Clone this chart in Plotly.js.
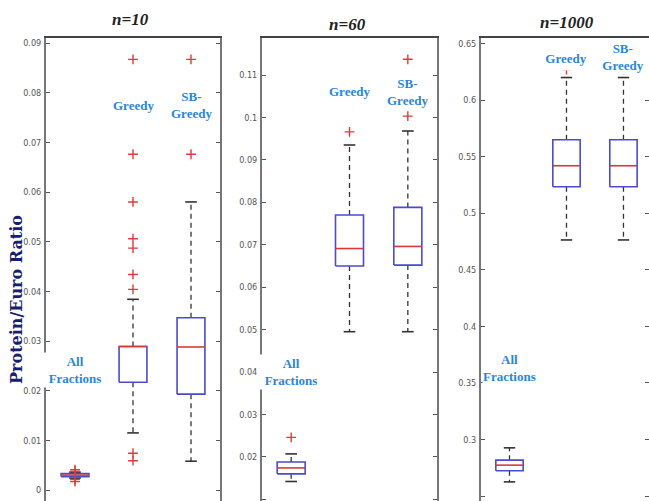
<!DOCTYPE html>
<html>
<head>
<meta charset="utf-8">
<script src="https://cdn.plot.ly/plotly-3.0.1.min.js"></script>
<style>html,body{margin:0;padding:0;background:#fff;}#chart{width:649px;height:501px;}</style>
</head>
<body>
<div id="chart"></div>
<script>
// ---------- DATA ----------
const groups = ['All Fractions', 'Greedy', 'SB-Greedy'];
const groupPos = [1, 2, 3];
const panelTitles = ['n=10', 'n=60', 'n=1000'];

// n = 10
const n10_lower  = [0.0024, 0.0115, 0.0058];
const n10_q1     = [0.0027, 0.0217, 0.0193];
const n10_median = [0.0030, 0.0289, 0.0288];
const n10_q3     = [0.0033, 0.0289, 0.0347];
const n10_upper  = [0.0036, 0.0384, 0.0580];
const n10_out_all    = [0.0041, 0.0038, 0.0021, 0.0017];
const n10_out_greedy = [0.0867, 0.0676, 0.0580, 0.0506, 0.0487, 0.0434, 0.0404, 0.0074, 0.0059];
const n10_out_sb     = [0.0867, 0.0676];

// n = 60
const n60_lower  = [0.0142, 0.0495, 0.0495];
const n60_q1     = [0.0160, 0.0650, 0.0652];
const n60_median = [0.0174, 0.0691, 0.0696];
const n60_q3     = [0.0188, 0.0770, 0.0788];
const n60_upper  = [0.0207, 0.0935, 0.0968];
const n60_out_all    = [0.0246];
const n60_out_greedy = [0.0966];
const n60_out_sb     = [0.1137, 0.1003];

// n = 1000
const n1000_lower  = [0.2625, 0.4764, 0.4764];
const n1000_q1     = [0.2723, 0.5235, 0.5235];
const n1000_median = [0.2773, 0.5420, 0.5420];
const n1000_q3     = [0.2817, 0.5650, 0.5650];
const n1000_upper  = [0.2926, 0.6200, 0.6200];
const n1000_out_all    = [];
const n1000_out_greedy = [0.6270];
const n1000_out_sb     = [0.6270];

// axis ticks
const n10_ticks   = [0, 0.01, 0.02, 0.03, 0.04, 0.05, 0.06, 0.07, 0.08, 0.09];
const n60_ticks   = [0.01, 0.02, 0.03, 0.04, 0.05, 0.06, 0.07, 0.08, 0.09, 0.1, 0.11];
const n1000_ticks = [0.25, 0.3, 0.35, 0.4, 0.45, 0.5, 0.55, 0.6, 0.65];

// ---------- STYLE ----------
const W = 649, H = 501;
const BOX_HALF = 0.24, CAP_HALF = 0.1;
const BOX_COLOR = '#4b4bd0', MED_COLOR = '#d83a3a', WHISK_COLOR = '#333', OUT_COLOR = '#e03a3a';
const LABEL_COLOR = '#2a86dc';
const tickFont = {family: '"Liberation Sans Narrow", "DejaVu Sans Condensed", "Arial Narrow", sans-serif', size: 9, color: '#555'};
const labelFont = {family: '"Liberation Serif", "Times New Roman", serif', size: 13, color: LABEL_COLOR, weight: 'bold'};

const panels = [
  {lower: n10_lower, q1: n10_q1, med: n10_median, q3: n10_q3, upper: n10_upper,
   outs: [n10_out_all, n10_out_greedy, n10_out_sb], ticks: n10_ticks,
   px: [46, 220], xr: [0.5, 3.5], yr: [-0.00221, 0.09101]},
  {lower: n60_lower, q1: n60_q1, med: n60_median, q3: n60_q3, upper: n60_upper,
   outs: [n60_out_all, n60_out_greedy, n60_out_sb], ticks: n60_ticks,
   px: [262, 437], xr: [0.5, 3.5], yr: [0.0096, 0.11872]},
  {lower: n1000_lower, q1: n1000_q1, med: n1000_median, q3: n1000_q3, upper: n1000_upper,
   outs: [n1000_out_all, n1000_out_greedy, n1000_out_sb], ticks: n1000_ticks,
   px: [481, 649], xr: [0.5, 3.448], yr: [0.2456, 0.65495]}
];

const traces = [];
const layout = {
  width: W, height: H, margin: {l: 0, r: 0, t: 0, b: 0},
  paper_bgcolor: '#fff', plot_bgcolor: '#fff', showlegend: false,
  annotations: []
};

panels.forEach((p, k) => {
  const sfx = k === 0 ? '' : String(k + 1);
  const xa = 'x' + sfx, ya = 'y' + sfx;
  const wx = [], wy = [], cx = [], cy = [], bx = [], by = [], mx = [], my = [], ox = [], oy = [];
  groupPos.forEach((g, i) => {
    wx.push(g, g, null, g, g, null);
    wy.push(p.q3[i], p.upper[i], null, p.q1[i], p.lower[i], null);
    cx.push(g - CAP_HALF, g + CAP_HALF, null, g - CAP_HALF, g + CAP_HALF, null);
    cy.push(p.upper[i], p.upper[i], null, p.lower[i], p.lower[i], null);
    bx.push(g - BOX_HALF, g + BOX_HALF, g + BOX_HALF, g - BOX_HALF, g - BOX_HALF, null);
    by.push(p.q1[i], p.q1[i], p.q3[i], p.q3[i], p.q1[i], null);
    mx.push(g - BOX_HALF, g + BOX_HALF, null);
    my.push(p.med[i], p.med[i], null);
    p.outs[i].forEach(v => { ox.push(g); oy.push(v); });
  });
  traces.push({type: 'scatter', mode: 'lines', x: wx, y: wy, xaxis: xa, yaxis: ya,
    line: {color: WHISK_COLOR, width: 1.3, dash: '5px,4px'}, hoverinfo: 'skip'});
  traces.push({type: 'scatter', mode: 'lines', x: cx, y: cy, xaxis: xa, yaxis: ya,
    line: {color: WHISK_COLOR, width: 1.6}, hoverinfo: 'skip'});
  traces.push({type: 'scatter', mode: 'lines', x: bx, y: by, xaxis: xa, yaxis: ya,
    line: {color: BOX_COLOR, width: 1.6}, fill: 'toself', fillcolor: 'rgba(255,255,255,1)', hoverinfo: 'skip'});
  traces.push({type: 'scatter', mode: 'lines', x: mx, y: my, xaxis: xa, yaxis: ya,
    line: {color: MED_COLOR, width: 1.6}, hoverinfo: 'skip'});
  traces.push({type: 'scatter', mode: 'markers', x: ox, y: oy, xaxis: xa, yaxis: ya,
    marker: {symbol: 'cross-thin-open', size: 7, color: OUT_COLOR, line: {color: OUT_COLOR, width: 1.4}}, hoverinfo: 'skip'});

  layout['xaxis' + sfx] = {
    domain: [p.px[0] / W, p.px[1] / W], range: p.xr, anchor: ya,
    side: 'top', showline: true, linecolor: '#444', linewidth: 2, mirror: false,
    showgrid: false, zeroline: false, ticks: '', showticklabels: false, fixedrange: true
  };
  layout['yaxis' + sfx] = {
    domain: [0, (H - 38) / H], range: p.yr, anchor: xa,
    showline: true, linecolor: '#777', linewidth: 2, mirror: 'ticks',
    ticks: 'inside', ticklen: 4, tickwidth: 1, tickcolor: '#555',
    tickvals: p.ticks, tickfont: tickFont, ticklabelstandoff: 1,
    showgrid: false, zeroline: false, fixedrange: true
  };
});

// panel titles
const titleX = [130, 347, 567], titleY = [20, 24, 23];
panelTitles.forEach((t, k) => {
  layout.annotations.push({text: t, xref: 'paper', yref: 'paper', x: titleX[k] / W, y: 1 - titleY[k] / H,
    showarrow: false, xanchor: 'center', yanchor: 'middle',
    font: {family: '"Liberation Serif", "Times New Roman", serif', size: 17, color: '#222', weight: 'bold', style: 'italic'}});
});

// group labels (pixel centres and white label boxes)
const labelText = ['All<br>Fractions', 'Greedy', 'SB-<br>Greedy'];
const labelY = [
  [370, 105, 105],
  [372, 92, 92],
  [368, 58, 57]
];
const labelBox = [
  [[62, 34], null, null],
  [[62, 34], null, null],
  [null, [48, 24], [52, 34]]
];
panels.forEach((p, k) => {
  const sfx = k === 0 ? '' : String(k + 1);
  groupPos.forEach((g, i) => {
    const a = {text: labelText[i], xref: 'x' + sfx, yref: 'paper', x: g, y: 1 - labelY[k][i] / H,
      showarrow: false, xanchor: 'center', yanchor: 'middle', align: 'center', valign: 'middle',
      bgcolor: 'rgba(255,255,255,1)', borderpad: 0, font: labelFont};
    if (labelBox[k][i]) { a.width = labelBox[k][i][0]; a.height = labelBox[k][i][1]; }
    layout.annotations.push(a);
  });
});

// y axis title
layout.annotations.push({text: 'Protein/Euro Ratio', xref: 'paper', yref: 'paper', x: 16 / W, y: 1 - 300 / H,
  showarrow: false, textangle: -90, xanchor: 'center', yanchor: 'middle',
  font: {family: '"DejaVu Serif", "Liberation Serif", serif', size: 16, color: '#16206e', weight: 'bold'}});

Plotly.newPlot('chart', traces, layout, {displayModeBar: false, staticPlot: true});
</script>
</body>
</html>
